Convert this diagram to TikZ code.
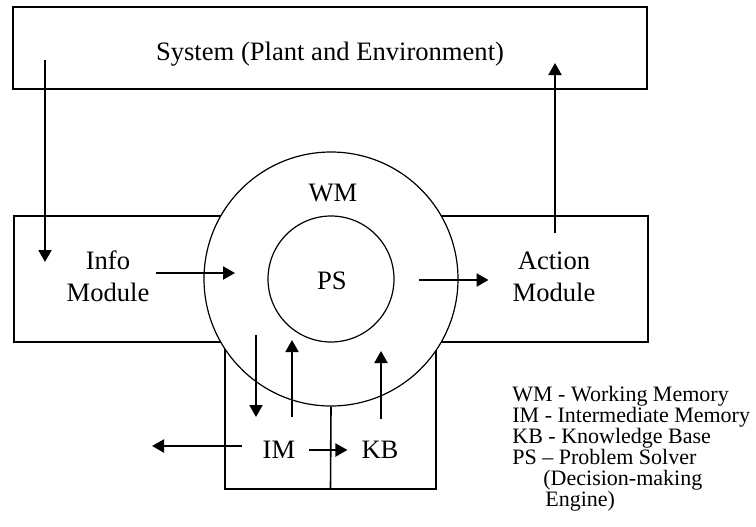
\documentclass[tikz,border=0pt]{standalone}
\usepackage{fontspec}
\setmainfont{Liberation Serif}
\usetikzlibrary{arrows.meta}

\begin{document}
\begin{tikzpicture}[x=0.5pt,y=-0.5pt,
    box/.style={draw,line width=0.8pt,inner sep=0pt},
    ring/.style={draw,circle,fill=white,line width=0.6pt,inner sep=0pt},
    txt/.style={font=\fontsize{13.3}{16}\selectfont,align=center},
    arr/.style={-{Triangle[width=6.5pt,length=6pt]},line width=1pt}]

    \useasboundingbox (0,0) rectangle (756,526);

    % the boxes

    \node[box,minimum width=317pt,minimum height=41pt] (sys) at (330,48) {};
    \node[box,minimum width=317pt,minimum height=63pt] (mid) at (331,279) {};
    \node[box,minimum width=105.5pt,minimum height=73.5pt] (low) at (330.5,415.5) {};
    \node[ring,minimum size=127pt] (wm) at (331,279) {};
    \node[ring,minimum size=63pt] (ps) at (331,279) {};
    \draw[line width=0.8pt] (wm.south) -- (low.south);

    % the texts

    \node[txt] (systxt) at (330,54) {System (Plant and Environment)};
    \node[txt] (info) at (108,276) {Info\\Module};
    \node[txt] (action) at (554,277) {Action\\Module};
    \node[txt] (wmtxt) at (333,193) {WM};
    \node[txt] (pstxt) at (332,281) {PS};
    \node[txt] (im) at (279,450) {IM};
    \node[txt] (kb) at (380,450) {KB};
    \node[anchor=north west,align=left,inner sep=0pt,
      font=\fontsize{11}{10.5}\selectfont] (legend) at (512,386)
    {WM - Working Memory\\IM - Intermediate Memory\\KB - Knowledge Base\\
      PS -- Problem Solver\\\hspace*{15.5pt}(Decision-making\\\hspace*{16.5pt}Engine)};

    % the arrows

    \coordinate (sysout) at (45,60);
    \coordinate (infoin) at (45,262);
    \coordinate (actout) at (555,233);
    \coordinate (sysin) at (555,63);
    \coordinate (wmin) at (235,273);
    \coordinate (psout) at (419,280);
    \coordinate (wmdown) at (256,335);
    \coordinate (imin) at (256,417);
    \coordinate (imout) at (292,417);
    \coordinate (wmup) at (292,340);
    \coordinate (kbout) at (381,419);
    \coordinate (kbup) at (381,351);
    \coordinate (imleft) at (152,446);

    \draw[arr] (sysout) -- (infoin);
    \draw[arr] (actout) -- (sysin);
    \draw[arr] (info.east |- wmin) -- (wmin);
    \draw[arr,shorten >=8.5pt] (psout) -- (action.west |- psout);
    \draw[arr] (wmdown) -- (imin);
    \draw[arr] (imout) -- (wmup);
    \draw[arr] (kbout) -- (kbup);
    \draw[arr,shorten <=7pt] (imleft -| im.west) -- (imleft);
    \draw[arr,shorten <=3.5pt,shorten >=3.5pt] (im.east) -- (kb.west);
  \end{tikzpicture}
\end{document}
